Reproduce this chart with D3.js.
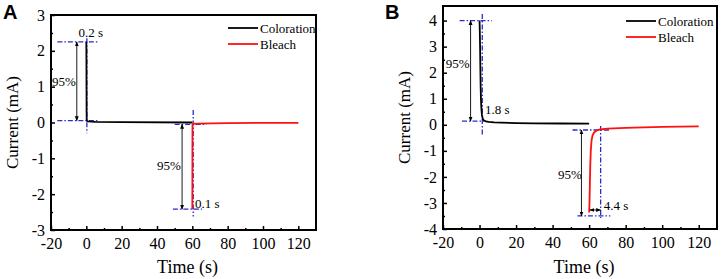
<!DOCTYPE html>
<html><head><meta charset="utf-8">
<script src="https://cdn.jsdelivr.net/npm/d3@7"></script>
<style>body{margin:0;background:#fff}svg{display:block}</style>
</head><body><svg id="c" width="726" height="279"></svg>
<script>
// ---------- data ----------
const timeTicks = [-20, 0, 20, 40, 60, 80, 100, 120];
const aCurrentTicks = [-3, -2, -1, 0, 1, 2, 3];
const bCurrentTicks = [-4, -3, -2, -1, 0, 1, 2, 3, 4];
const seriesNames = ["Coloration", "Bleach"];

const aColorationT = [0, 0.05, 0.1, 0.15, 0.2, 0.5, 1, 5, 20, 60];
const aColorationI = [2.25, 1.8, 1.0, 0.3, 0.06, 0.04, 0.03, 0.015, 0.01, 0.0];
const aBleachT = [60, 60.03, 60.06, 60.1, 60.5, 62, 80, 120];
const aBleachI = [-2.42, -1.6, -0.6, -0.06, -0.04, -0.03, -0.015, -0.01];

const bColorationT = [0, 0.15, 0.3, 0.45, 0.6, 0.8, 1.0, 1.3, 1.8, 2.5, 3.5, 5, 8, 12, 20, 30, 45, 60];
const bColorationI = [4.0, 3.6, 3.0, 2.2, 1.5, 0.95, 0.65, 0.38, 0.22, 0.16, 0.13, 0.11, 0.09, 0.08, 0.065, 0.055, 0.05, 0.045];
const bBleachT = [60, 60.2, 60.4, 60.6, 60.9, 61.3, 61.8, 62.5, 63.5, 64.4, 66, 70, 80, 90, 100, 110, 120];
const bBleachI = [-3.37, -3.0, -2.3, -1.6, -1.0, -0.62, -0.42, -0.32, -0.25, -0.21, -0.18, -0.15, -0.12, -0.1, -0.08, -0.07, -0.06];

// annotation guides (data units): [t1, i1, t2, i2]
const aGuides = [[-16.4, 2.25, 6.5, 2.25], [-16.4, 0.05, 7, 0.05], [0.3, 2.35, 0.3, -0.3],
                 [50, -0.05, 68, -0.05], [49, -2.42, 65.5, -2.42], [60.5, 0.35, 60.5, -2.62]];
const aArrows = [[-5.4, 2.25, -5.4, 0.05], [54.2, -0.05, 54.2, -2.42]];
const aLabels = [["95%", -19.5, 1.15], ["0.2 s", -4.5, 2.5], ["95%", 40, -1.2], ["0.1 s", 61.5, -2.25]];

const bGuides = [[-10.9, 4.0, 6.7, 4.0], [-9.6, 0.14, 2.5, 0.14], [1.5, 4.25, 1.5, -0.45],
                 [50.9, -0.2, 70.9, -0.2], [53.6, -3.5, 71.6, -3.5], [66.3, -0.05, 66.3, -3.58]];
const bArrows = [[-4.9, 4.0, -4.9, 0.14], [55.8, -0.2, 55.8, -3.5], [60.4, -3.27, 66.3, -3.27]];
const bLabels = [["95%", -18.5, 2.35], ["1.8 s", 3, 0.6], ["95%", 43, -1.9], ["4.4 s", 68, -3.1]];

// ---------- drawing ----------
const SERIF = '"Liberation Serif", "Times New Roman", serif';
const SANS = '"Liberation Sans", Arial, sans-serif';
const svg = d3.select("#c");
const blue = "#2a2ad0";
svg.append("defs").append("marker").attr("id", "ah").attr("viewBox", "0 0 10 10")
  .attr("refX", 9).attr("refY", 5).attr("markerWidth", 5.5).attr("markerHeight", 5.5)
  .attr("orient", "auto-start-reverse").append("path").attr("d", "M0,1L10,5L0,9Z").attr("fill", "#000");

function txt(g, s) { return g.append("text").style("font-family", SERIF).attr("fill", "#000").text(s); }

function panel(o) {
  const g = svg.append("g");
  const x = d3.scaleLinear().domain([-20, 130]).range([o.x0, o.x1]);
  const y = d3.scaleLinear().domain(o.yDom).range([o.y1, o.y0]);
  const fmt = d => String(d);
  const xa = d3.axisBottom(x).tickValues(timeTicks).tickSize(-4).tickPadding(8).tickFormat(fmt);
  const xm = d3.axisBottom(x).tickValues(d3.range(-10, 130, 20)).tickSize(-2).tickFormat("");
  const ya = d3.axisLeft(y).tickValues(o.yTicks).tickSize(-4).tickPadding(6).tickFormat(fmt);
  const ym = d3.axisLeft(y).tickValues(o.yTicks.slice(0, -1).map(v => v + 0.5)).tickSize(-2).tickFormat("");
  [[xa, "b"], [xm, "b"], [ya, "l"], [ym, "l"]].forEach(([ax, s]) => {
    const ag = g.append("g").attr("transform", s === "b" ? `translate(0,${o.y1})` : `translate(${o.x0},0)`).call(ax);
    ag.select(".domain").remove();
    ag.selectAll("line").attr("stroke", "#000").attr("stroke-width", 1.5);
    ag.selectAll("text").style("font-family", SERIF).style("font-size", "16px").attr("fill", "#000");
  });
  g.append("rect").attr("x", o.x0).attr("y", o.y0).attr("width", o.x1 - o.x0).attr("height", o.y1 - o.y0)
    .attr("fill", "none").attr("stroke", "#000").attr("stroke-width", 2);
  const line = d3.line().x(d => x(d[0])).y(d => y(d[1]));
  o.guides.forEach(d => g.append("line").attr("x1", x(d[0])).attr("y1", y(d[1])).attr("x2", x(d[2])).attr("y2", y(d[3]))
    .attr("stroke", blue).attr("stroke-width", 1.3).attr("stroke-dasharray", "5,2,1.5,2"));
  g.append("path").attr("d", line(o.cT.map((t, i) => [t, o.cI[i]]))).attr("fill", "none").attr("stroke", "#000").attr("stroke-width", 1.8);
  g.append("path").attr("d", line(o.bT.map((t, i) => [t, o.bI[i]]))).attr("fill", "none").attr("stroke", "#ff1010").attr("stroke-width", 1.8);
  o.arrows.forEach(d => g.append("line").attr("x1", x(d[0])).attr("y1", y(d[1])).attr("x2", x(d[2])).attr("y2", y(d[3]))
    .attr("stroke", "#000").attr("stroke-width", 0.9).attr("marker-start", "url(#ah)").attr("marker-end", "url(#ah)"));
  o.labels.forEach(d => txt(g, d[0]).attr("x", x(d[1])).attr("y", y(d[2])).attr("dy", "0.35em").style("font-size", "13px"));
  seriesNames.forEach((n, i) => {
    const ly = o.legY + i * 16;
    g.append("line").attr("x1", o.legX).attr("x2", o.legX + 30).attr("y1", ly).attr("y2", ly)
      .attr("stroke", i ? "#ff1010" : "#000").attr("stroke-width", 1.8);
    txt(g, n).attr("x", o.legX + 32).attr("y", ly).attr("dy", "0.35em").style("font-size", "13px");
  });
  txt(g, "Time (s)").attr("x", (o.x0 + o.x1) / 2 + 4).attr("y", 273).attr("text-anchor", "middle").style("font-size", "18px");
  txt(g, "Current (mA)").attr("transform", `translate(${o.x0 - 33},${(o.y0 + o.y1) / 2}) rotate(-90)`).attr("text-anchor", "middle")
    .style("font-size", "17px");
  g.append("text").attr("x", o.letterX).attr("y", 19).style("font-family", SANS).style("font-weight", "bold")
    .style("font-size", "20px").text(o.letter);
}

panel({x0: 51, x1: 316, y0: 15, y1: 230, yDom: [-3, 3], yTicks: aCurrentTicks,
  cT: aColorationT, cI: aColorationI, bT: aBleachT, bI: aBleachI,
  guides: aGuides, arrows: aArrows, labels: aLabels, legX: 228, legY: 28, letter: "A", letterX: 3});
panel({x0: 443, x1: 717, y0: 6, y1: 229, yDom: [-4, 4.56], yTicks: bCurrentTicks,
  cT: bColorationT, cI: bColorationI, bT: bBleachT, bI: bBleachI,
  guides: bGuides, arrows: bArrows, labels: bLabels, legX: 626, legY: 21, letter: "B", letterX: 385});
</script></body></html>
